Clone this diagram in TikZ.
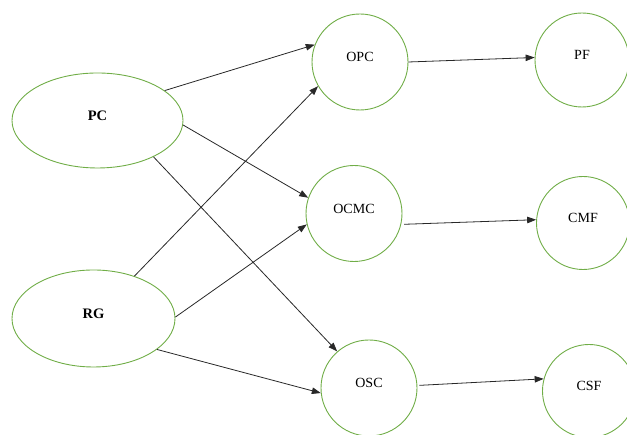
\documentclass[tikz,border=0pt]{standalone}
\usepackage{fontspec}
\setmainfont{Liberation Serif}
\usetikzlibrary{arrows.meta,shapes.geometric}
\definecolor{wgreen}{RGB}{112,173,71}
\definecolor{arrgray}{RGB}{40,40,40}
\tikzset{
  x=1pt,y=1pt,
  base/.style={draw=wgreen,line width=0.9pt,inner sep=0pt,font=\fontsize{14}{16}\selectfont,text height=9.3pt,text depth=10pt},
  oval/.style={base,ellipse,font=\fontsize{14.5}{16}\selectfont\bfseries},
  circ/.style={base,circle,minimum size=96pt},
  link/.style={draw=arrgray,line width=0.8pt,-{Triangle[length=9pt,width=6.5pt]}}
}
\begin{document}
\begin{tikzpicture}
\useasboundingbox (0,0) rectangle (627,435);
\node[oval,minimum width=171pt,minimum height=95pt] (PC) at (97.5,314.5) {PC};
\node[oval,minimum width=163pt,minimum height=97pt] (RG) at (93.5,116.5) {RG};
\node[circ] (OPC) at (360,373) {OPC};
\node[circ,minimum size=94pt] (PF) at (582,375) {PF};
\node[circ] (OCMC) at (354,221.5) {OCMC};
\node[circ,minimum size=93pt] (CMF) at (583,212) {CMF};
\node[circ] (OSC) at (369,47) {OSC};
\node[circ,minimum size=93pt] (CSF) at (589,44) {CSF};
\draw[link] (PC.24) -- (OPC.159);
\draw[link] (PC.-3) -- (OCMC.161);
\draw[link] (PC.-33) -- (OSC.131);
\draw[link] (RG.46) -- (OPC.210);
\draw[link] (RG.1) -- (OCMC.193);
\draw[link] (RG.-26) -- (OSC.186);
\draw[link] (OPC.0) -- (PF.177);
\draw[link,shorten <=3pt] (OCMC.-13) -- (CMF.176);
\draw[link,shorten <=2pt] (OSC.3) -- (CSF.165);
\end{tikzpicture}
\end{document}
